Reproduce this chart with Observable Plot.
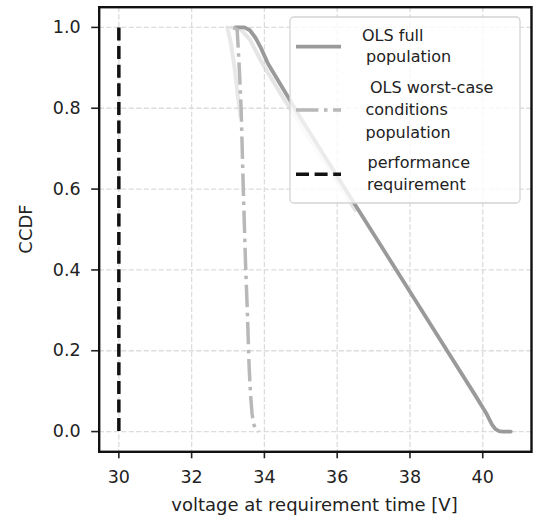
<!DOCTYPE html>
<html>
<head>
<meta charset="utf-8">
<script src="https://cdn.jsdelivr.net/npm/d3@7"></script>
<script src="https://cdn.jsdelivr.net/npm/@observablehq/plot@0.6"></script>
<style>
  body { margin: 0; background: #fff; }
  svg { display: block; }
</style>
</head>
<body>
<div id="chart"></div>
<script>
// Axis ticks
const X_TICKS = [30, 32, 34, 36, 38, 40];
const Y_TICKS = [0.0, 0.2, 0.4, 0.6, 0.8, 1.0];

// OLS full population: voltage [V] and CCDF
const V_FULL    = [33.2, 33.45, 33.6, 33.75, 33.9, 34.1, 35.0, 36.0, 37.0, 38.0, 39.0, 39.8, 40.1, 40.25, 40.35, 40.45, 40.55, 40.77];
const CCDF_FULL = [1.0, 1.0, 0.993, 0.975, 0.95, 0.91, 0.775, 0.632, 0.489, 0.346, 0.203, 0.089, 0.045, 0.018, 0.006, 0.001, 0.0, 0.0];

// spread of the full-population runs near the top
const V_FULL_SPREAD    = [33.1, 33.35, 33.6, 33.95, 34.5, 35.2, 35.9, 36.5];
const CCDF_FULL_SPREAD = [1.0, 0.995, 0.97, 0.91, 0.828, 0.73, 0.633, 0.548];

// OLS worst-case conditions population
const V_WC    = [33.15, 33.25, 33.28, 33.32, 33.36, 33.42, 33.48, 33.53, 33.58, 33.62, 33.66, 33.7, 33.76, 33.84];
const CCDF_WC = [1.0, 0.995, 0.95, 0.88, 0.8, 0.6, 0.42, 0.3, 0.16, 0.09, 0.045, 0.02, 0.005, 0.0];

// spread of the worst-case runs near the top
const V_WC_SPREAD    = [32.98, 33.08, 33.18, 33.27, 33.34];
const CCDF_WC_SPREAD = [1.0, 0.96, 0.9, 0.83, 0.78];

// performance requirement
const REQ_V = 30;

const LEGEND_LABELS = [
  ["OLS full", "population"],
  ["OLS worst-case", "conditions", "population"],
  ["performance", "requirement"]
];

const pts = (xs, ys) => xs.map((v, i) => ({v, c: ys[i]}));

const GREY_FULL = "#9a9a9a";
const GREY_WC = "#b8b8b8";
const INK = "#222";

const gridStyle = {stroke: "#dcdcdc", strokeOpacity: 1, strokeWidth: 1.3, strokeDasharray: "5.2,2.3"};

const svg = Plot.plot({
  width: 535,
  height: 521,
  marginLeft: 98.7,
  marginRight: 4,
  marginTop: 6.7,
  marginBottom: 69.7,
  style: {fontFamily: "DejaVu Sans", color: INK, background: "#fff"},
  x: {domain: [29.46, 41.34]},
  y: {domain: [-0.05, 1.05]},
  marks: [
    Plot.gridX(X_TICKS, gridStyle),
    Plot.gridY(Y_TICKS, gridStyle),
    Plot.line(pts(V_WC_SPREAD, CCDF_WC_SPREAD), {x: "v", y: "c", stroke: "#d8d8d8", strokeOpacity: 0.6, strokeWidth: 4}),
    Plot.line(pts(V_FULL_SPREAD, CCDF_FULL_SPREAD), {x: "v", y: "c", stroke: "#cfcfcf", strokeOpacity: 0.55, strokeWidth: 4}),
    Plot.line(pts(V_FULL, CCDF_FULL), {x: "v", y: "c", stroke: GREY_FULL, strokeWidth: 3.8}),
    Plot.line(pts(V_WC, CCDF_WC), {x: "v", y: "c", stroke: GREY_WC, strokeWidth: 3.5, strokeDasharray: "22.4,5.6,3.5,5.6", strokeLinecap: "butt"}),
    Plot.ruleX([REQ_V], {y1: 0, y2: 1, stroke: "#111", strokeWidth: 3.5, strokeDasharray: "13,5.6"}),
    Plot.axisX(X_TICKS, {tickSize: 7, tickPadding: 12, fontSize: 17.5, label: null, strokeWidth: 1.6, tickFormat: d3.format("d")}),
    Plot.axisY(Y_TICKS, {tickSize: 7.5, tickPadding: 11, fontSize: 17.5, label: null, strokeWidth: 1.6, tickFormat: d3.format(".1f")}),
    Plot.frame({stroke: "#111", strokeWidth: 2.4})
  ]
});

const root = d3.select(svg);

// axis titles
root.append("text")
  .attr("x", 314.5).attr("y", 511)
  .attr("text-anchor", "middle")
  .attr("font-size", 18).attr("fill", INK)
  .text("voltage at requirement time [V]");

root.append("text")
  .attr("transform", "translate(26,229) rotate(-90)")
  .attr("text-anchor", "middle").attr("dy", "0.36em")
  .attr("font-size", 18).attr("fill", INK)
  .text("CCDF");

// legend
const lg = root.append("g").attr("font-size", 16).attr("fill", INK).attr("text-anchor", "start");
lg.append("rect")
  .attr("x", 290).attr("y", 17).attr("width", 230).attr("height", 186)
  .attr("rx", 4).attr("fill", "#fff").attr("fill-opacity", 0.8)
  .attr("stroke", "#d4d4d4").attr("stroke-width", 1.3);

const samples = [
  {y: 46.7, stroke: GREY_FULL, dash: null, width: 3.8},
  {y: 110, stroke: GREY_WC, dash: "22.4,5.6,3.5,5.6", width: 3.5},
  {y: 174.3, stroke: "#111", dash: "13,5.6", width: 3.5}
];
samples.forEach(s => {
  lg.append("line")
    .attr("x1", 296).attr("x2", 341).attr("y1", s.y).attr("y2", s.y)
    .attr("stroke", s.stroke).attr("stroke-width", s.width)
    .attr("stroke-dasharray", s.dash);
});

const textPos = [
  [[362, 40.7], [366, 62.2]],
  [[370, 92.7], [365.5, 115], [365.5, 137.5]],
  [[367.5, 168.3], [367, 190]]
];
LEGEND_LABELS.forEach((lines, i) => {
  lines.forEach((t, j) => {
    lg.append("text")
      .attr("x", textPos[i][j][0]).attr("y", textPos[i][j][1])
      .text(t);
  });
});

document.getElementById("chart").appendChild(svg);
</script>
</body>
</html>
